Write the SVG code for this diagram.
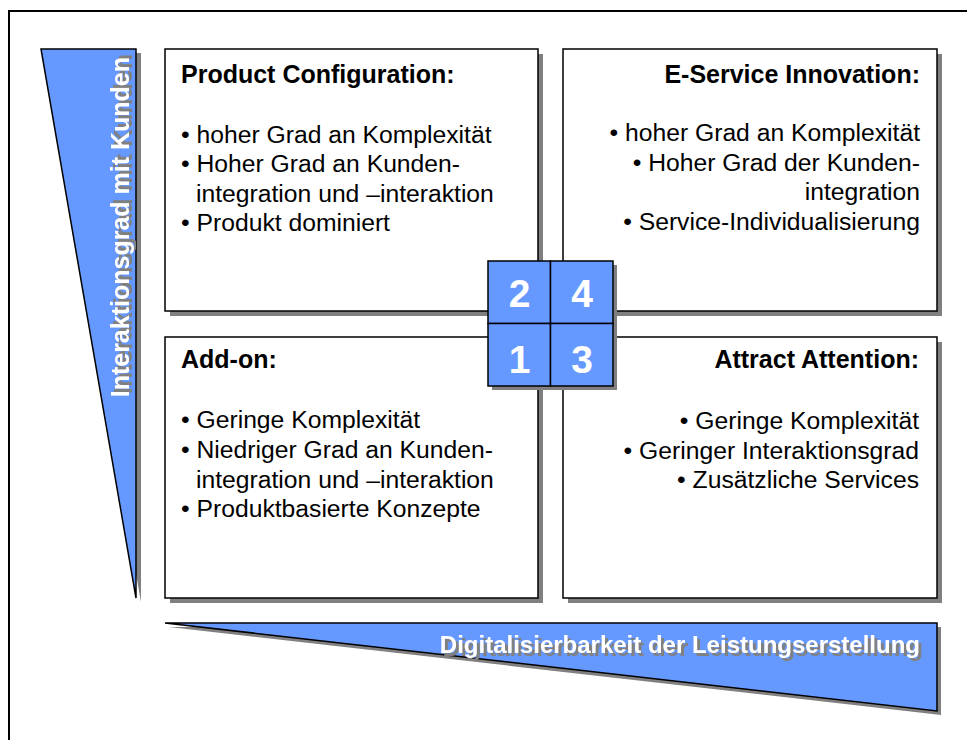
<svg xmlns="http://www.w3.org/2000/svg" width="967" height="740" viewBox="0 0 967 740">
<defs>
<filter id="tshadow" x="-5%" y="-20%" width="110%" height="150%">
<feOffset in="SourceAlpha" dx="3" dy="3" result="off"/>
<feFlood flood-color="#808080"/>
<feComposite in2="off" operator="in" result="sh"/>
<feMerge><feMergeNode in="sh"/><feMergeNode in="SourceGraphic"/></feMerge>
</filter>
<filter id="vshadow" x="-20%" y="-5%" width="150%" height="110%">
<feOffset in="SourceAlpha" dx="3" dy="3" result="off"/>
<feFlood flood-color="#808080"/>
<feComposite in2="off" operator="in" result="sh"/>
<feMerge><feMergeNode in="sh"/><feMergeNode in="SourceGraphic"/></feMerge>
</filter>
</defs>
<style>
.box{fill:#fff;stroke:#000;stroke-width:1.5}
.shadow{fill:#808080;stroke:none}
.blue{fill:#6699FF;stroke:#000;stroke-width:1.5}
.title{font-family:"Liberation Sans",Arial,sans-serif;font-weight:bold;font-size:25px;fill:#000}
.body{font-family:"Liberation Sans",Arial,sans-serif;font-size:24.7px;fill:#000}
.axis{font-family:"Liberation Sans",Arial,sans-serif;font-weight:bold;font-size:24px;fill:#fff}
.num{font-family:"Liberation Sans",Arial,sans-serif;font-weight:bold;font-size:39px;fill:#fff;text-anchor:middle}
.end{text-anchor:end}
</style>
<rect x="0" y="0" width="967" height="740" fill="#fff"/>
<rect x="9" y="11" width="1000" height="800" fill="none" stroke="#000" stroke-width="2"/>

<g id="axis-y">
<polygon class="shadow" points="45,53 141,53 141,602"/>
<polygon class="blue" points="41,49 136,49 136,598"/>
<text class="axis end" style="font-size:25px" filter="url(#vshadow)" transform="translate(129,57) rotate(-90)">Interaktionsgrad mit Kunden</text>
</g>

<g id="axis-x">
<polygon class="shadow" points="169,627 941,627 941,715"/>
<polygon class="blue" points="165,623 937,623 937,711"/>
<text class="axis end" filter="url(#tshadow)" x="920" y="653">Digitalisierbarkeit der Leistungserstellung</text>
</g>

<g id="product-configuration">
<rect class="shadow" x="170" y="54" width="373" height="262"/>
<rect class="box" x="165" y="49" width="373" height="262"/>
<text class="title" x="181" y="82.5">Product Configuration:</text>
<text class="body" x="181" y="142.5">• hoher Grad an Komplexität</text>
<text class="body" x="181" y="172">• Hoher Grad an Kunden-</text>
<text class="body" x="196" y="201.5">integration und –interaktion</text>
<text class="body" x="181" y="231">• Produkt dominiert</text>
</g>

<g id="e-service-innovation">
<rect class="shadow" x="568" y="54" width="374" height="262"/>
<rect class="box" x="563" y="49" width="374" height="262"/>
<text class="title end" x="920" y="82.5">E-Service Innovation:</text>
<text class="body end" x="920" y="141">• hoher Grad an Komplexität</text>
<text class="body end" x="920" y="170.5">• Hoher Grad der Kunden-</text>
<text class="body end" x="920" y="200">integration</text>
<text class="body end" x="920" y="229.5">• Service-Individualisierung</text>
</g>

<g id="add-on">
<rect class="shadow" x="170" y="342" width="373" height="261"/>
<rect class="box" x="165" y="337" width="373" height="261"/>
<text class="title" x="181" y="368">Add-on:</text>
<text class="body" x="181" y="428">• Geringe Komplexität</text>
<text class="body" x="181" y="458">• Niedriger Grad an Kunden-</text>
<text class="body" x="196" y="487.5">integration und –interaktion</text>
<text class="body" x="181" y="517">• Produktbasierte Konzepte</text>
</g>

<g id="attract-attention">
<rect class="shadow" x="568" y="342" width="374" height="261"/>
<rect class="box" x="563" y="337" width="374" height="261"/>
<text class="title end" x="919" y="368">Attract Attention:</text>
<text class="body end" x="919" y="429">• Geringe Komplexität</text>
<text class="body end" x="919" y="458.5">• Geringer Interaktionsgrad</text>
<text class="body end" x="919" y="488">• Zusätzliche Services</text>
</g>

<g id="quadrant-matrix">
<rect class="shadow" x="492" y="265" width="125" height="125"/>
<rect class="blue" x="488" y="261" width="62.5" height="62.5"/>
<rect class="blue" x="550.5" y="261" width="62.5" height="62.5"/>
<rect class="blue" x="488" y="323.5" width="62.5" height="62.5"/>
<rect class="blue" x="550.5" y="323.5" width="62.5" height="62.5"/>
<text class="num" x="519.5" y="307">2</text>
<text class="num" x="582" y="307">4</text>
<text class="num" x="519.5" y="372.5">1</text>
<text class="num" x="582" y="372.5">3</text>
</g>

<g id="connectors"></g>
</svg>
